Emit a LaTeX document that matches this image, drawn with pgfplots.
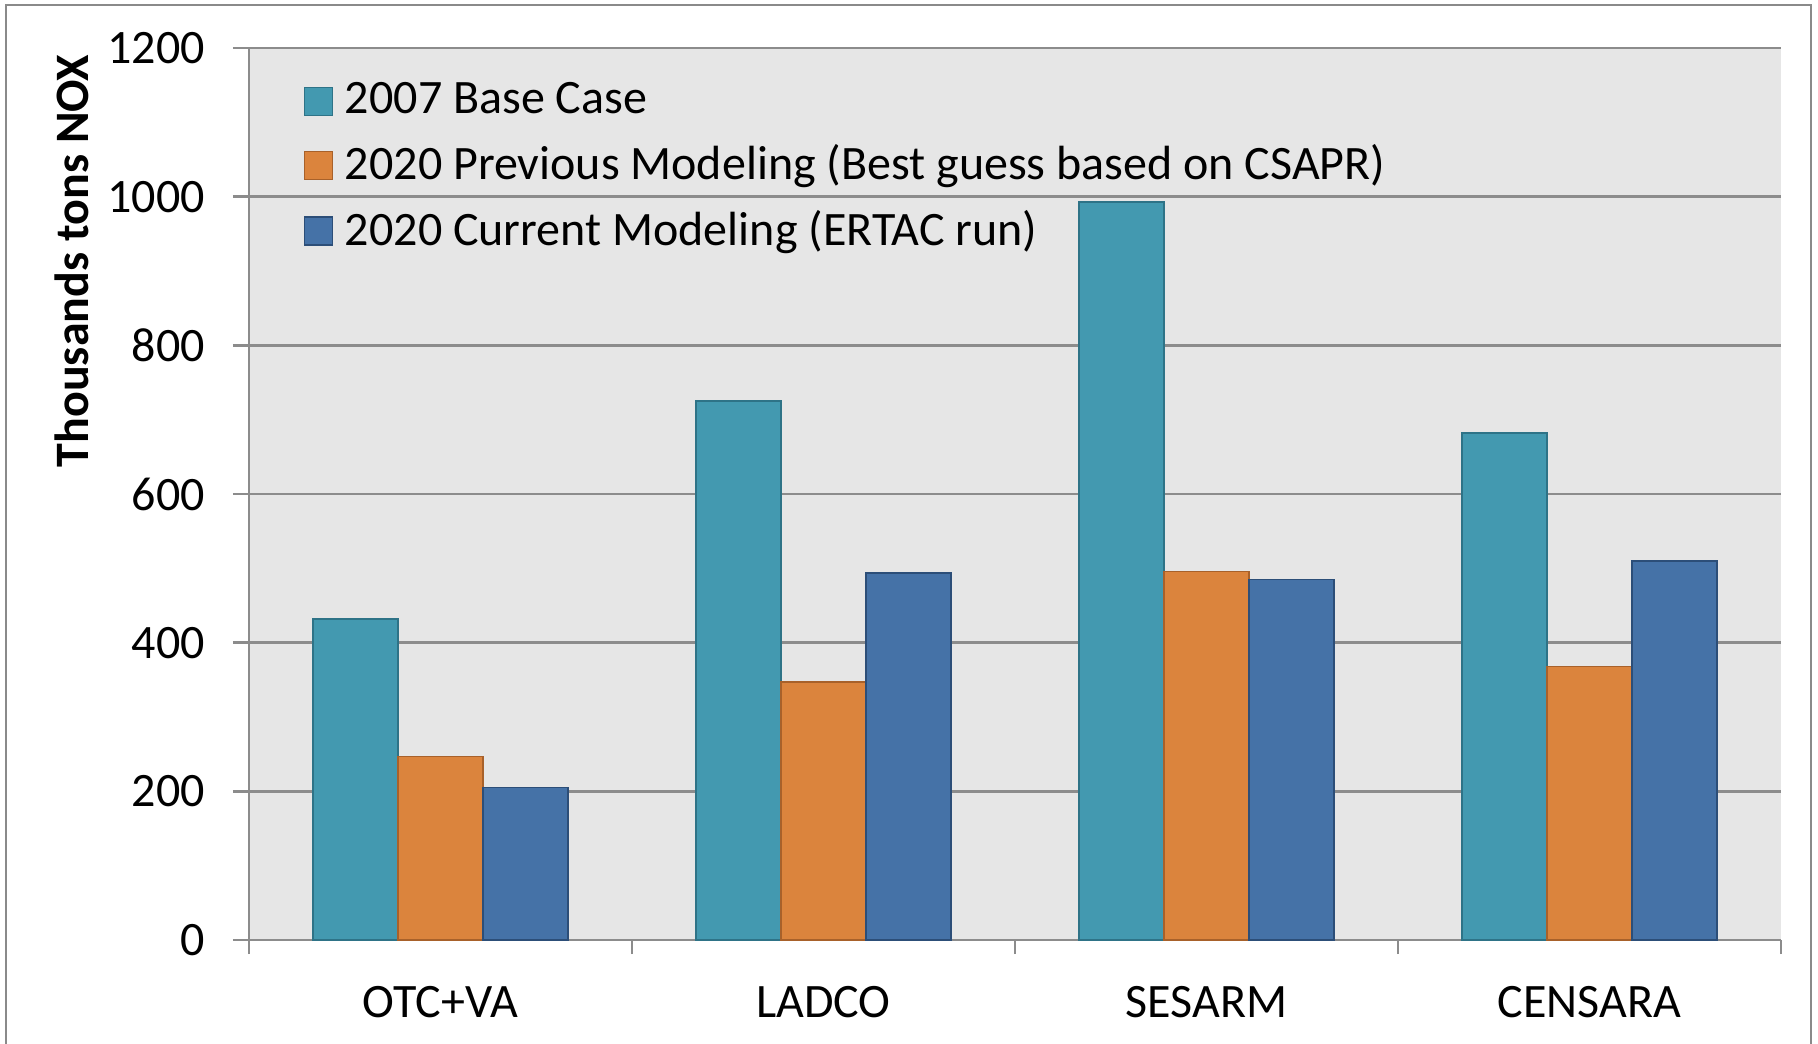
\documentclass[border=0pt]{standalone}
\usepackage{fontspec}
\setmainfont{Carlito}
\usepackage{pgfplots}
\pgfplotsset{compat=1.18}
\definecolor{cteal}{HTML}{4399B0}
\definecolor{cteald}{HTML}{2E7387}
\definecolor{corange}{HTML}{DB843D}
\definecolor{coranged}{HTML}{A8612A}
\definecolor{cblue}{HTML}{4572A7}
\definecolor{cblued}{HTML}{2C4E78}
\definecolor{bggrey}{HTML}{E6E6E6}
\definecolor{gridgrey}{HTML}{8C8C8C}
\definecolor{framegrey}{HTML}{8A8A8A}
\begin{document}
\begin{tikzpicture}
\useasboundingbox (-62.25pt,-25.75pt) rectangle (392.25pt,235pt);
\draw[framegrey, line width=0.6pt] (-60.75pt,-30pt) -- (-60.75pt,233.75pt) -- (390.5pt,233.75pt) -- (390.5pt,-30pt);
\begin{axis}[
  at={(0pt,0pt)}, anchor=south west,
  scale only axis,
  width=383pt, height=223pt,
  xmin=-0.5, xmax=3.5,
  ymin=0, ymax=1200,
  ytick={0,200,...,1200},
  xtick={0,1,2,3},
  xticklabels={OTC+VA,LADCO,SESARM,CENSARA},
  minor xtick={-0.5,0.5,1.5,2.5,3.5},
  major x tick style={draw=none},
  minor x tick style={draw=gridgrey, line width=0.6pt},
  major y tick style={draw=gridgrey, line width=0.6pt},
  minor tick length=3.5pt,
  major tick length=4pt,
  tick align=outside,
  axis lines*=left,
  axis line style={draw=gridgrey, line width=0.6pt},
  ymajorgrids,
  major grid style={draw=gridgrey, line width=0.6pt},
  axis background/.style={fill=bggrey},
  /pgf/number format/assume math mode=true,
  /pgf/number format/1000 sep={},
  tick label style={font=\fontsize{12}{14}\selectfont, text=black},
  yticklabel style={xshift=-3.5pt},
  xticklabel style={yshift=-4pt},
  ylabel={Thousands tons NOX},
  ylabel style={at={(axis description cs:-0.1155,0.761)}, anchor=center, font=\fontsize{12}{14}\selectfont\bfseries},
  ybar, bar width=0.2222,
  legend style={at={(rel axis cs:0,1)}, anchor=north west, xshift=10.5pt, yshift=-4.5pt,
    draw=none, fill=none, font=\fontsize{12}{14}\selectfont, row sep=2.2pt,
    cells={anchor=west}},
  legend image code/.code={\draw[#1] (0pt,-3.5pt) rectangle (7pt,3.5pt);},
  legend cell align=left,
]
\addplot[fill=cteal, draw=cteald, line width=0.4pt, bar shift=-0.2222] coordinates {(0,432) (1,725) (2,993) (3,682)};
\addplot[fill=corange, draw=coranged, line width=0.4pt, bar shift=0] coordinates {(0,247) (1,347) (2,496) (3,368)};
\addplot[fill=cblue, draw=cblued, line width=0.4pt, bar shift=0.2222] coordinates {(0,205) (1,494) (2,485) (3,510)};
\legend{\hspace{0.9pt}2007 Base Case, \hspace{0.9pt}2020 Previous Modeling (Best guess based on CSAPR), \hspace{0.9pt}2020 Current Modeling (ERTAC run)}
\end{axis}
\end{tikzpicture}
\end{document}
